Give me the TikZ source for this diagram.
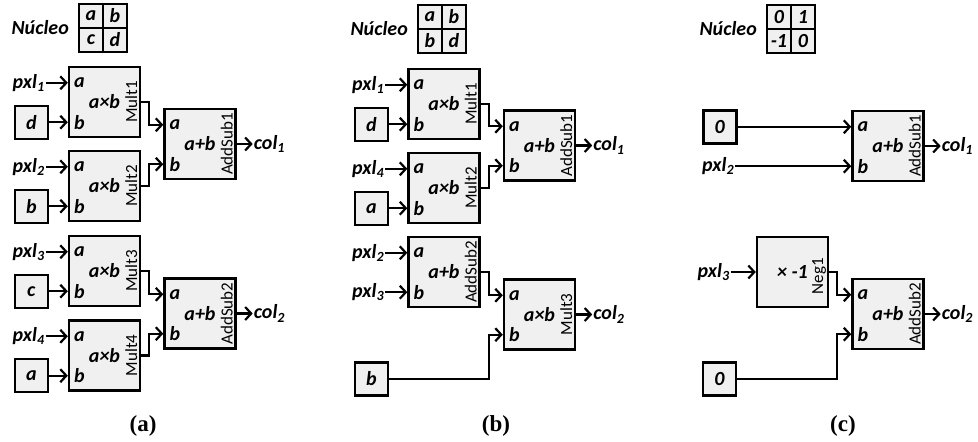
\documentclass[tikz,border=0pt]{standalone}
\usepackage{fontspec}
\setmainfont{Carlito}
\newfontfamily\capfont{Liberation Serif}
\usetikzlibrary{arrows.meta,calc}
\definecolor{boxfill}{RGB}{240,240,240}
% block: name, x, y, operation, title
\newcommand{\opblock}[5]{%
  \node[blk] (#1) at (#2,#3) {#4};
  \node[nm] (#1-t) at ($(#1.east)+(-10,0)$) {#5};
  \coordinate (#1-a) at ($(#1.north west)+(0,17)$);
  \coordinate (#1-b) at ($(#1.south west)+(0,-16)$);
  \node[port] (#1-la) at ($(#1-a)+(5,0)$) {a};
  \node[port] (#1-lb) at ($(#1-b)+(5,0)$) {b};
}
% kernel: prefix, x0, y0, four entries
\newcommand{\kernelmat}[7]{%
  \node[lbl, anchor=east] (#1-nuc) at (#2-8,#3+25) {Núcleo};
  \node[cell] (#1-k11) at (#2+13,#3+13) {#4};
  \node[cell] (#1-k12) at (#2+37,#3+13) {#5};
  \node[cell] (#1-k21) at (#2+13,#3+37) {#6};
  \node[cell] (#1-k22) at (#2+37,#3+37) {#7};
}
\begin{document}
\begin{tikzpicture}[x=1pt,y=-1pt,
  every node/.style={inner sep=1pt},
  lbl/.style={font=\fontsize{20}{22}\selectfont\bfseries\itshape},
  blk/.style={lbl, draw, line width=2.4pt, fill=boxfill, minimum width=71pt, minimum height=70pt, inner sep=0pt},
  cst/.style={lbl, draw, line width=2.4pt, fill=boxfill, minimum size=33pt, inner sep=0pt},
  cell/.style={lbl, draw, line width=2.4pt, fill=boxfill, minimum size=24pt, inner sep=0pt},
  port/.style={lbl, anchor=west},
  nm/.style={font=\fontsize{17}{19}\selectfont, rotate=90, inner sep=0pt},
  wire/.style={line width=2.2pt},
  arr/.style={wire, -{Straight Barb[length=6pt,width=13pt]}},
  captxt/.style={font=\capfont\fontsize{23}{25}\selectfont\bfseries}
]
\path[use as bounding box] (0,0) rectangle (978,442);

% ---------------- (a) ----------------
\kernelmat{A}{78}{3}{a}{b}{c}{d}
\opblock{A-m1}{104.5}{102}{a×b}{Mult1}
\opblock{A-m2}{104.5}{186}{a×b}{Mult2}
\opblock{A-m3}{104.5}{271}{a×b}{Mult3}
\opblock{A-m4}{104.5}{355.5}{a×b}{Mult4}
\opblock{A-s1}{200}{144}{a+b}{AddSub1}
\opblock{A-s2}{200}{313.5}{a+b}{AddSub2}
\node[cst] (A-kd) at ($(A-m1-b)+(-36.5,0)$) {d};
\node[cst] (A-kb) at ($(A-m2-b)+(-36.5,0)$) {b};
\node[cst] (A-kc) at ($(A-m3-b)+(-36.5,0)$) {c};
\node[cst] (A-ka) at ($(A-m4-b)+(-36.5,0)$) {a};
\node[lbl, anchor=east] (A-p1) at ($(A-m1-a)+(-22,0)$) {pxl\textsubscript{1}};
\node[lbl, anchor=east] (A-p2) at ($(A-m2-a)+(-22,0)$) {pxl\textsubscript{2}};
\node[lbl, anchor=east] (A-p3) at ($(A-m3-a)+(-22,0)$) {pxl\textsubscript{3}};
\node[lbl, anchor=east] (A-p4) at ($(A-m4-a)+(-22,0)$) {pxl\textsubscript{4}};
\draw[arr] (A-p1) -- (A-m1-a);
\draw[arr] (A-p2) -- (A-m2-a);
\draw[arr] (A-p3) -- (A-m3-a);
\draw[arr] (A-p4) -- (A-m4-a);
\draw[arr] (A-kd) -- (A-m1-b);
\draw[arr] (A-kb) -- (A-m2-b);
\draw[arr] (A-kc) -- (A-m3-b);
\draw[arr] (A-ka) -- (A-m4-b);
\coordinate (A-j1) at ($(A-s1-a)+(-14,0)$);
\coordinate (A-j2) at ($(A-s1-b)+(-14,0)$);
\coordinate (A-j3) at ($(A-s2-a)+(-14,0)$);
\coordinate (A-j4) at ($(A-s2-b)+(-14,0)$);
\draw[arr] (A-m1.east) -| (A-j1) -- (A-s1-a);
\draw[arr] (A-m2.east) -| (A-j2) -- (A-s1-b);
\draw[arr] (A-m3.east) -| (A-j3) -- (A-s2-a);
\draw[arr] (A-m4.east) -| (A-j4) -- (A-s2-b);
\node[lbl, anchor=west] (A-c1) at ($(A-s1.east)+(16,0)$) {col\textsubscript{1}};
\node[lbl, anchor=west] (A-c2) at ($(A-s2.east)+(16,0)$) {col\textsubscript{2}};
\draw[arr] (A-s1.east) -- (A-c1.west);
\draw[arr] (A-s2.east) -- (A-c2.west);
\node[captxt] (A-cap) at (143,426) {(a)};

% ---------------- (b) ----------------
\kernelmat{B}{417}{4}{a}{b}{b}{d}
\opblock{B-m1}{444}{104}{a×b}{Mult1}
\opblock{B-m2}{444}{188}{a×b}{Mult2}
\opblock{B-s1}{539.5}{145.5}{a+b}{AddSub1}
\opblock{B-s2}{444}{272}{a+b}{AddSub2}
\opblock{B-m3}{539.5}{314.5}{a×b}{Mult3}
\node[cst] (B-kd) at ($(B-m1-b)+(-36,0)$) {d};
\node[cst] (B-ka) at ($(B-m2-b)+(-36,0)$) {a};
\node[cst] (B-kb) at (371.5,379) {b};
\node[lbl, anchor=east] (B-p1) at ($(B-m1-a)+(-22,0)$) {pxl\textsubscript{1}};
\node[lbl, anchor=east] (B-p4) at ($(B-m2-a)+(-22,0)$) {pxl\textsubscript{4}};
\node[lbl, anchor=east] (B-p2) at ($(B-s2-a)+(-22,0)$) {pxl\textsubscript{2}};
\node[lbl, anchor=east] (B-p3) at ($(B-s2-b)+(-22,0)$) {pxl\textsubscript{3}};
\draw[arr] (B-p1) -- (B-m1-a);
\draw[arr] (B-p4) -- (B-m2-a);
\draw[arr] (B-p2) -- (B-s2-a);
\draw[arr] (B-p3) -- (B-s2-b);
\draw[arr] (B-kd) -- (B-m1-b);
\draw[arr] (B-ka) -- (B-m2-b);
\coordinate (B-j1) at ($(B-s1-a)+(-14,0)$);
\coordinate (B-j2) at ($(B-s1-b)+(-14,0)$);
\coordinate (B-j3) at ($(B-m3-a)+(-14,0)$);
\coordinate (B-j4) at ($(B-m3-b)+(-14,0)$);
\draw[arr] (B-m1.east) -| (B-j1) -- (B-s1-a);
\draw[arr] (B-m2.east) -| (B-j2) -- (B-s1-b);
\draw[arr] (B-s2.east) -| (B-j3) -- (B-m3-a);
\draw[arr] (B-kb.east) -| (B-j4) -- (B-m3-b);
\node[lbl, anchor=west] (B-c1) at ($(B-s1.east)+(16,0)$) {col\textsubscript{1}};
\node[lbl, anchor=west] (B-c2) at ($(B-m3.east)+(16,0)$) {col\textsubscript{2}};
\draw[arr] (B-s1.east) -- (B-c1.west);
\draw[arr] (B-m3.east) -- (B-c2.west);
\node[captxt] (B-cap) at (496,426) {(b)};

% ---------------- (c) ----------------
\kernelmat{C}{766}{4}{0}{1}{-1}{0}
\opblock{C-s1}{888}{146}{a+b}{AddSub1}
\opblock{C-s2}{888}{314}{a+b}{AddSub2}
\node[blk] (C-n1) at (792.5,272) {× -1};
\node[nm] (C-n1-t) at ($(C-n1.east)+(-10,4)$) {Neg1};
\node[cst] (C-k0a) at ($(C-s1-a)+(-131.5,0)$) {0};
\node[cst] (C-k0b) at (719.5,379) {0};
\node[lbl, anchor=east] (C-p2) at ($(C-s1-b)+(-116,0)$) {pxl\textsubscript{2}};
\node[lbl, anchor=east] (C-p3) at ($(C-n1.west)+(-25,0)$) {pxl\textsubscript{3}};
\draw[arr] (C-k0a) -- (C-s1-a);
\draw[arr] (C-p2) -- (C-s1-b);
\draw[arr] (C-p3) -- (C-n1.west);
\coordinate (C-j1) at ($(C-s2-a)+(-14,0)$);
\coordinate (C-j2) at ($(C-s2-b)+(-14,0)$);
\draw[arr] (C-n1.east) -| (C-j1) -- (C-s2-a);
\draw[arr] (C-k0b.east) -| (C-j2) -- (C-s2-b);
\node[lbl, anchor=west] (C-c1) at ($(C-s1.east)+(16,0)$) {col\textsubscript{1}};
\node[lbl, anchor=west] (C-c2) at ($(C-s2.east)+(16,0)$) {col\textsubscript{2}};
\draw[arr] (C-s1.east) -- (C-c1.west);
\draw[arr] (C-s2.east) -- (C-c2.west);
\node[captxt] (C-cap) at (843,426) {(c)};
\end{tikzpicture}
\end{document}
